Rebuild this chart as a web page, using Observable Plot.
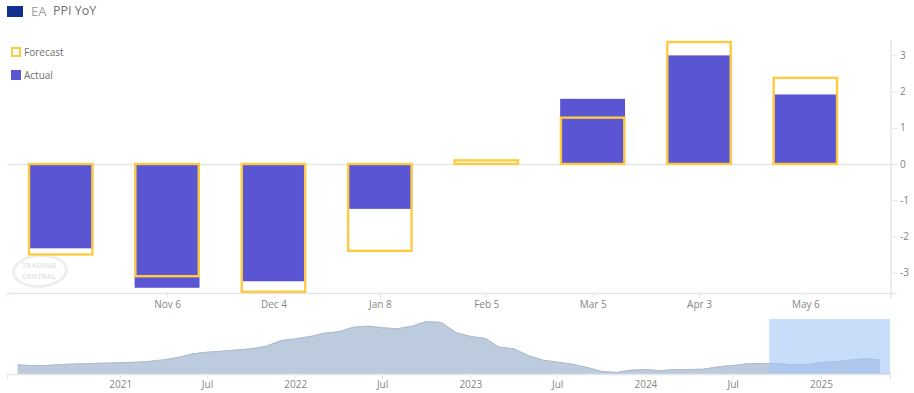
<!DOCTYPE html>
<html>
<head>
<meta charset="utf-8">
<script src="https://cdn.jsdelivr.net/npm/d3@7"></script>
<script src="https://cdn.jsdelivr.net/npm/@observablehq/plot@0.6"></script>
<style>
  html, body { margin: 0; padding: 0; background: #fff; }
  #root { position: relative; width: 914px; height: 393px; overflow: hidden; font-family: "Open Sans", sans-serif; }
  #root svg { position: absolute; left: 0; background: transparent; }
  .abs { position: absolute; white-space: nowrap; }
</style>
</head>
<body>
<div id="root">
  <div class="abs" style="left:12px;top:254px;width:50px;height:28px;border:3px solid #eeeeee;border-radius:50%;transform:rotate(-4deg);"></div>
  <div class="abs" style="left:19px;top:260px;font:700 7.5px/10.5px 'Open Sans',sans-serif;color:#e6e6e6;text-align:center;width:40px;">TRADING<br>CENTRAL</div>
  <div class="abs" style="left:7px;top:6px;width:16px;height:11px;background:#12308f;"></div>
  <div class="abs" style="left:31px;top:2px;font-size:13px;line-height:18px;color:#a0a0a0;">EA</div>
  <div class="abs" style="left:53px;top:2px;font-size:12.5px;line-height:18px;color:#707070;">PPI YoY</div>
  <div class="abs" style="left:11px;top:47px;width:6px;height:6px;border:2px solid #fdcb42;"></div>
  <div class="abs" style="left:24px;top:45px;font-size:10px;line-height:14px;color:#707070;">Forecast</div>
  <div class="abs" style="left:11px;top:70px;width:10px;height:10px;background:#5a55d2;"></div>
  <div class="abs" style="left:24px;top:68px;font-size:10px;line-height:14px;color:#707070;">Actual</div>
</div>
<script>
const periods = ["", "Nov 6", "Dec 4", "Jan 8", "Feb 5", "Mar 5", "Apr 3", "May 6"];
const actual = [-2.33, -3.42, -3.24, -1.24, null, 1.8, 3.0, 1.92];
const forecast = [-2.5, -3.1, -3.53, -2.4, 0.1, 1.28, 3.37, 2.38];
const yTicks = [-3, -2, -1, 0, 1, 2, 3];

const navStart = "2020-06-01";
const navValues = [
  9.7, 8.7, 9, 10, 10.5, 11, 11.3,
  11.8, 12.2, 13, 14.7, 17, 20.7, 22.3, 23.3, 24.5, 25.7, 28.3, 33.7,
  35.7, 38, 41.3, 42.7, 47.3, 48.3, 46.7, 45.7, 48.3, 53, 52, 42,
  38, 36, 27.5, 25.7, 19, 14.3, 12.3, 10.3, 7, 3, 2, 4.3,
  5, 3.7, 5, 5, 5.3, 7.7, 9, 10.8, 11, 11, 9.7, 9.7,
  12, 13, 14.3, 15.7, 14.7
];
const navTailDates = ["2025-05-03", "2025-05-25"];
const navTailValues = [0.5, 0.5];
const navTicks = ["2021-01-01", "2021-07-01", "2022-01-01", "2022-07-01", "2023-01-01", "2023-07-01", "2024-01-01", "2024-07-01", "2025-01-01"];
const navDomain = ["2020-05-10", "2025-05-25"];
const selection = ["2024-09-15", "2025-05-25"];

const grid = "#e6e6e6", labelColor = "#858585";
const rows = periods.map((p, i) => ({i, actual: actual[i], forecast: forecast[i]}));

const main = Plot.plot({
  width: 914, height: 315,
  marginTop: 40, marginBottom: 22, marginLeft: 7.5, marginRight: 23.5,
  style: {fontFamily: "'Open Sans', sans-serif", fontSize: "10px", background: "transparent"},
  x: {domain: [-0.5, 7.8], label: null},
  y: {domain: [-3.564, 3.425], label: null},
  marks: [
    Plot.ruleY([-3.564, 0], {x1: -0.5, x2: 7.855, stroke: grid, strokeWidth: 1.5}),
    Plot.ruleX([7.8], {y1: 3.425, y2: -3.7, stroke: grid, strokeWidth: 1.5}),
    Plot.rect(rows.filter(d => d.actual != null), {x1: d => d.i - 0.305, x2: d => d.i + 0.305, y1: 0, y2: "actual", fill: "#5a55d2"}),
    Plot.rect(rows, {x1: d => d.i - 0.298, x2: d => d.i + 0.298, y1: 0, y2: "forecast", fill: "none", stroke: "#fdcb42", strokeWidth: 2.4}),
    Plot.axisY({anchor: "right", ticks: yTicks, tickSize: 6, tickPadding: 3, tickFormat: d => String(d), stroke: grid, fill: labelColor, label: null, fontSize: 10}),
    Plot.axisX({ticks: [-0.5, 1, 2, 3, 4, 5, 6, 7, 7.8], tickSize: 5, tickPadding: 2, tickFormat: d => periods[d] ?? "", stroke: grid, fill: labelColor, label: null, fontSize: 10})
  ]
});
main.style.top = "0px";

const parse = s => new Date(s + "T00:00:00Z");
const navDates = navValues.map((_, i) => d3.utcMonth.offset(parse(navStart), i));
const navData = navValues.map((v, i) => ({date: navDates[i], value: v}))
  .concat(navTailValues.map((v, i) => ({date: parse(navTailDates[i]), value: v})));

const nav = Plot.plot({
  width: 914, height: 78,
  marginTop: 4, marginBottom: 19, marginLeft: 7, marginRight: 24,
  style: {fontFamily: "'Open Sans', sans-serif", fontSize: "10px", background: "transparent"},
  x: {type: "utc", domain: navDomain.map(parse), label: null},
  y: {domain: [0, 55], axis: null, label: null},
  marks: [
    Plot.areaY(navData, {x: "date", y: "value", fill: "#bccbdd"}),
    Plot.lineY(navData, {x: "date", y: "value", stroke: "#b0bbc9", strokeWidth: 1}),
    Plot.rect([0], {x1: () => parse(selection[0]), x2: () => parse(selection[1]), y1: 0, y2: 55, fill: "rgb(163,198,247)", fillOpacity: 0.6}),
    Plot.ruleY([0], {stroke: grid, strokeWidth: 1.5}),
    Plot.axisX({
      ticks: navTicks.map(parse).concat(navDomain.map(parse)),
      tickSize: 5, tickPadding: 1,
      tickFormat: d => (+d === +parse(navDomain[0]) || +d === +parse(navDomain[1])) ? "" : (d.getUTCMonth() === 0 ? String(d.getUTCFullYear()) : "Jul"),
      stroke: grid, fill: labelColor, label: null, fontSize: 10
    })
  ]
});
nav.style.top = "315px";

const root = document.getElementById("root");
root.appendChild(main);
root.appendChild(nav);
</script>
</body>
</html>
